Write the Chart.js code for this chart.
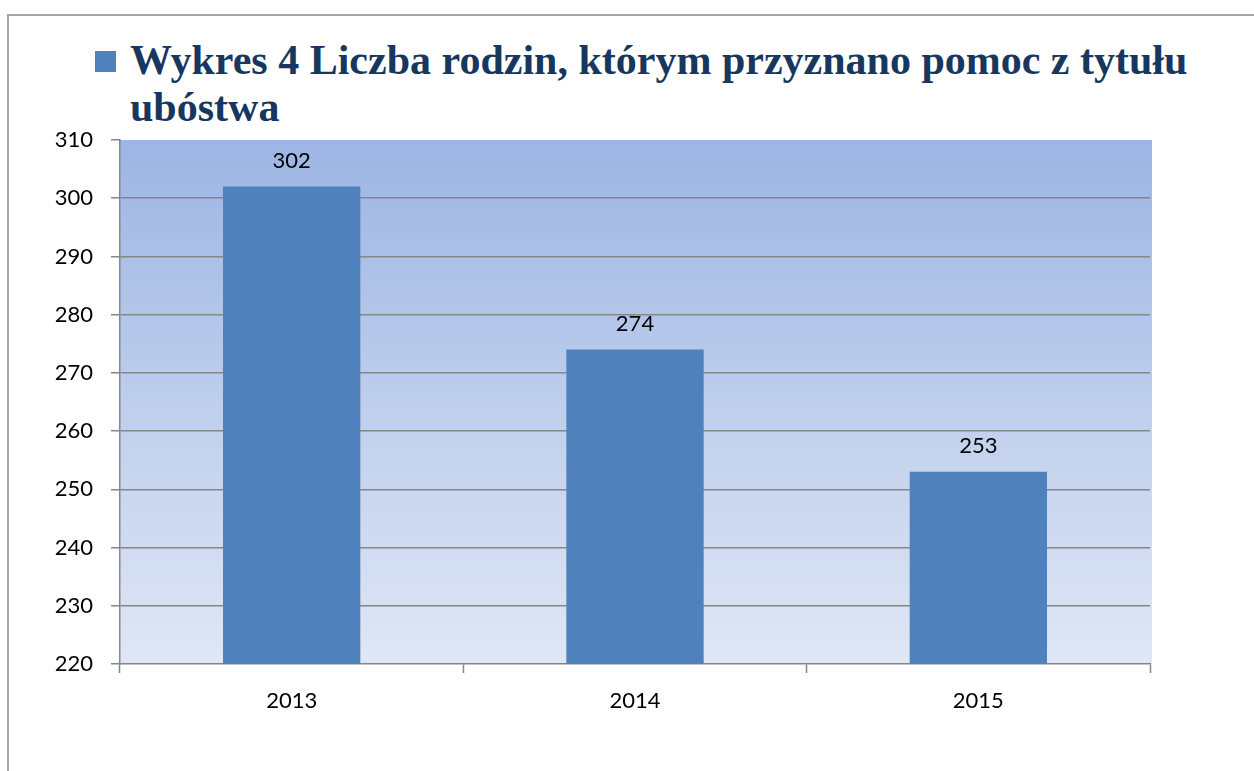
<!DOCTYPE html>
<html>
<head>
<meta charset="utf-8">
<script src="https://cdn.jsdelivr.net/npm/chart.js@4"></script>
<style>
  html, body { margin: 0; padding: 0; background: #fff; }
  #wrap { position: relative; width: 1254px; height: 771px; overflow: hidden; }
  #frame { position: absolute; left: 7px; top: 14px; width: 1300px; height: 800px;
           border-left: 2px solid #a6a6a6; border-top: 2px solid #a6a6a6; box-sizing: border-box; }
  #legend { position: absolute; left: 95px; top: 37px; width: 1150px; }
  #legend .box { position: absolute; left: 0; top: 14px; width: 21px; height: 21px; background: #4f81bd; }
  #legend .text { position: absolute; left: 35px; top: 0; white-space: nowrap;
                  font: bold 42px "Liberation Serif", "DejaVu Serif", serif; line-height: 47px; color: #17375e; }
  canvas { position: absolute; left: 0; top: 0; }
</style>
</head>
<body>
<div id="wrap">
  <div id="frame"></div>
  <div id="legend">
    <div class="box"></div>
    <div class="text" id="legendText"></div>
  </div>
  <canvas id="chart" width="1254" height="771"></canvas>
</div>
<script>
const seriesName = ["Wykres 4 Liczba rodzin, którym przyznano pomoc z tytułu", "ubóstwa"];
const years = ["2013", "2014", "2015"];
const families = [302, 274, 253];
const yMin = 220;
const yMax = 310;
const yStep = 10;

document.getElementById("legendText").innerHTML = seriesName.join("<br>");

const labelFont = { family: "Lato, 'Open Sans', sans-serif", size: 22 };

const plotBackground = {
  id: "plotBackground",
  beforeDraw(chart) {
    const { ctx, chartArea: a } = chart;
    const g = ctx.createLinearGradient(0, a.top, 0, a.bottom);
    g.addColorStop(0, "#9cb5e3");
    g.addColorStop(1, "#e0e7f5");
    ctx.save();
    ctx.fillStyle = g;
    ctx.fillRect(a.left, a.top, a.right - a.left + 2, a.bottom - a.top);
    ctx.restore();
  },
};

const valueLabels = {
  id: "valueLabels",
  afterDatasetsDraw(chart) {
    const { ctx } = chart;
    const meta = chart.getDatasetMeta(0);
    ctx.save();
    ctx.font = `${labelFont.size}px ${labelFont.family}`;
    ctx.fillStyle = "#000";
    ctx.textAlign = "center";
    ctx.textBaseline = "middle";
    meta.data.forEach((bar, i) => {
      ctx.fillText(String(families[i]), bar.x, bar.y - 26);
    });
    ctx.restore();
  },
};

new Chart(document.getElementById("chart"), {
  type: "bar",
  data: {
    labels: years,
    datasets: [
      {
        label: seriesName.join(" "),
        data: families,
        backgroundColor: "#4f81bd",
        borderWidth: 0,
        categoryPercentage: 1,
        barPercentage: 0.4,
      },
    ],
  },
  options: {
    responsive: false,
    animation: false,
    layout: { padding: { top: 140, right: 104, left: 0, bottom: 0 } },
    plugins: {
      legend: { display: false },
      tooltip: { enabled: false },
    },
    scales: {
      x: {
        afterFit(scale) { scale.height = 107; },
        grid: {
          offset: true,
          drawOnChartArea: false,
          drawTicks: true,
          tickLength: 9,
          tickColor: "#868686",
          tickWidth: 1.5,
        },
        border: { color: "#868686", width: 1.5 },
        ticks: { color: "#000", font: labelFont, padding: 15 },
      },
      y: {
        min: yMin,
        max: yMax,
        afterFit(scale) { scale.width = 120; },
        ticks: { stepSize: yStep, color: "#000", font: labelFont, padding: 18 },
        grid: {
          color: (c) => (c.tick && (c.tick.value === yMax || c.tick.value === yMin) ? "rgba(0,0,0,0)" : "#868686"),
          lineWidth: 1.5,
          tickLength: 9,
          tickColor: "#868686",
          tickWidth: 1.5,
        },
        border: { color: "#868686", width: 1.5 },
      },
    },
  },
  plugins: [plotBackground, valueLabels],
});
</script>
</body>
</html>
